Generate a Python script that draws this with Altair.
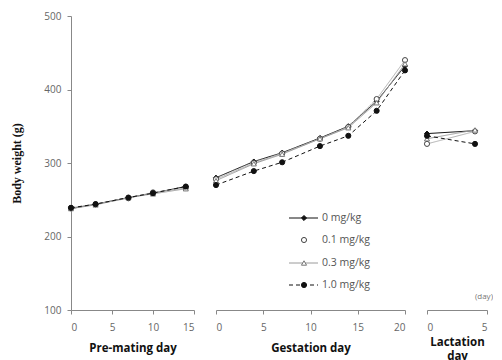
import altair as alt
import pandas as pd

doses = ["0 mg/kg", "0.1 mg/kg", "0.3 mg/kg", "1.0 mg/kg"]

pre_days = [0, 3, 7, 10, 14]
pre_0 = [238, 244, 253, 259, 268]
pre_01 = [239, 244, 252, 260, 266]
pre_03 = [238, 243, 253, 258, 265]
pre_10 = [239, 244, 253, 259, 268]

ges_days = [0, 4, 7, 11, 14, 17, 20]
ges_0 = [280, 302, 314, 334, 350, 384, 432]
ges_01 = [278, 300, 313, 333, 349, 387, 440]
ges_03 = [276, 299, 312, 333, 348, 382, 435]
ges_10 = [270, 289, 301, 323, 337, 371, 426]

lac_days = [0, 4]
lac_0 = [340, 344]
lac_01 = [326, 343]
lac_03 = [333, 345]
lac_10 = [337, 326]


def frame(days, series):
    rows = []
    for dose, vals in zip(doses, series):
        for d, v in zip(days, vals):
            rows.append({"dose": dose, "day": d, "weight": v})
    return pd.DataFrame(rows)


pre_df = frame(pre_days, [pre_0, pre_01, pre_03, pre_10])
ges_df = frame(ges_days, [ges_0, ges_01, ges_03, ges_10])
lac_df = frame(lac_days, [lac_0, lac_01, lac_03, lac_10])

line_colors = ["#111111", "#b0b0b0", "#9a9a9a", "#111111"]
point_strokes = ["#111111", "#444444", "#777777", "#111111"]
fills = ["#111111", "white", "white", "#111111"]
shapes = ["diamond", "circle", "triangle-up", "circle"]
dashes = [[1, 0], [1, 0], [1, 0], [4, 3]]
legend_show_line = [True, False, True, True]

yscale = alt.Scale(domain=[100, 500], nice=False)
color_s = alt.Scale(domain=doses, range=line_colors)
dash_s = alt.Scale(domain=doses, range=dashes)
shape_s = alt.Scale(domain=doses, range=shapes)
fill_s = alt.Scale(domain=doses, range=fills)
stroke_s = alt.Scale(domain=doses, range=point_strokes)


def panel(df, domain, title, ticks, yaxis, tpad=10):
    x = alt.X("day:Q", scale=alt.Scale(domain=domain, nice=False),
              axis=alt.Axis(values=ticks, title=title, grid=False, titlePadding=tpad))
    if yaxis:
        y = alt.Y("weight:Q", scale=yscale,
                  axis=alt.Axis(values=[100, 200, 300, 400, 500], title="Body weight (g)", grid=False))
    else:
        y = alt.Y("weight:Q", scale=yscale, axis=None)
    base = alt.Chart(df)
    line = base.mark_line(strokeWidth=1).encode(
        x=x, y=y,
        color=alt.Color("dose:N", scale=color_s, legend=None),
        strokeDash=alt.StrokeDash("dose:N", scale=dash_s, legend=None),
        detail="dose:N",
    )
    pts = base.mark_point(size=26, strokeWidth=1, opacity=1, filled=False).encode(
        x=x, y=y,
        shape=alt.Shape("dose:N", scale=shape_s, legend=None),
        fill=alt.Fill("dose:N", scale=fill_s, legend=None),
        stroke=alt.Stroke("dose:N", scale=stroke_s, legend=None),
    )
    return [line, pts]


p1 = alt.layer(*panel(pre_df, [0, 15], "Pre-mating day", [0, 5, 10, 15], True)).properties(
    width=123, height=294)

# legend drawn inside the gestation panel
leg_layers = []
row_y = [202, 224, 247, 269]
for i, d in enumerate(doses):
    ldf = pd.DataFrame({"dose": [d]})
    lb = alt.Chart(ldf)
    if legend_show_line[i]:
        leg_layers.append(lb.mark_rule(strokeWidth=1).encode(
            x=alt.value(73), x2=alt.value(102), y=alt.value(row_y[i]),
            color=alt.Color("dose:N", scale=color_s, legend=None),
            strokeDash=alt.StrokeDash("dose:N", scale=dash_s, legend=None)))
    leg_layers.append(lb.mark_point(size=26, strokeWidth=1, opacity=1).encode(
        x=alt.value(88), y=alt.value(row_y[i]),
        shape=alt.Shape("dose:N", scale=shape_s, legend=None),
        fill=alt.Fill("dose:N", scale=fill_s, legend=None),
        stroke=alt.Stroke("dose:N", scale=stroke_s, legend=None)))
    leg_layers.append(lb.mark_text(align="left", baseline="middle", font="Open Sans",
                                   fontSize=10.5, color="#555").encode(
        x=alt.value(106), y=alt.value(row_y[i]), text="dose:N"))

p2 = alt.layer(*panel(ges_df, [0, 20], "Gestation day", [0, 5, 10, 15, 20], False),
               *leg_layers).properties(width=189, height=294)

day_note = alt.Chart(pd.DataFrame({"t": ["(day)"]})).mark_text(
    font="Open Sans", fontSize=8, color="#777", align="right", baseline="middle").encode(
    x=alt.value(66), y=alt.value(281), text="t:N")
p3 = alt.layer(*panel(lac_df, [0, 5], ["Lactation", "day"], [0, 5], False, tpad=4),
               day_note).properties(width=60, height=294)

chart = alt.hconcat(p1, p2, p3, spacing=22, bounds="flush").resolve_scale(
    y="shared").properties(padding={"left": 2, "top": 3, "right": 0, "bottom": 0}).configure_view(
    stroke=None).configure_axis(
    domainColor="#888", tickColor="#888", tickSize=4, labelColor="#666", labelFontSize=10,
    labelFont="Open Sans", titleFont="Open Sans", titleFontWeight="bold", titleFontSize=11.5,
    titleColor="#111", labelPadding=6).configure_axisY(
    titleFont="Liberation Serif", titleFontSize=12, titlePadding=20).configure_axisX(
    labelPadding=8, titleLineHeight=14)

chart.save("out.html", embed_options={"renderer": "svg", "actions": False})
